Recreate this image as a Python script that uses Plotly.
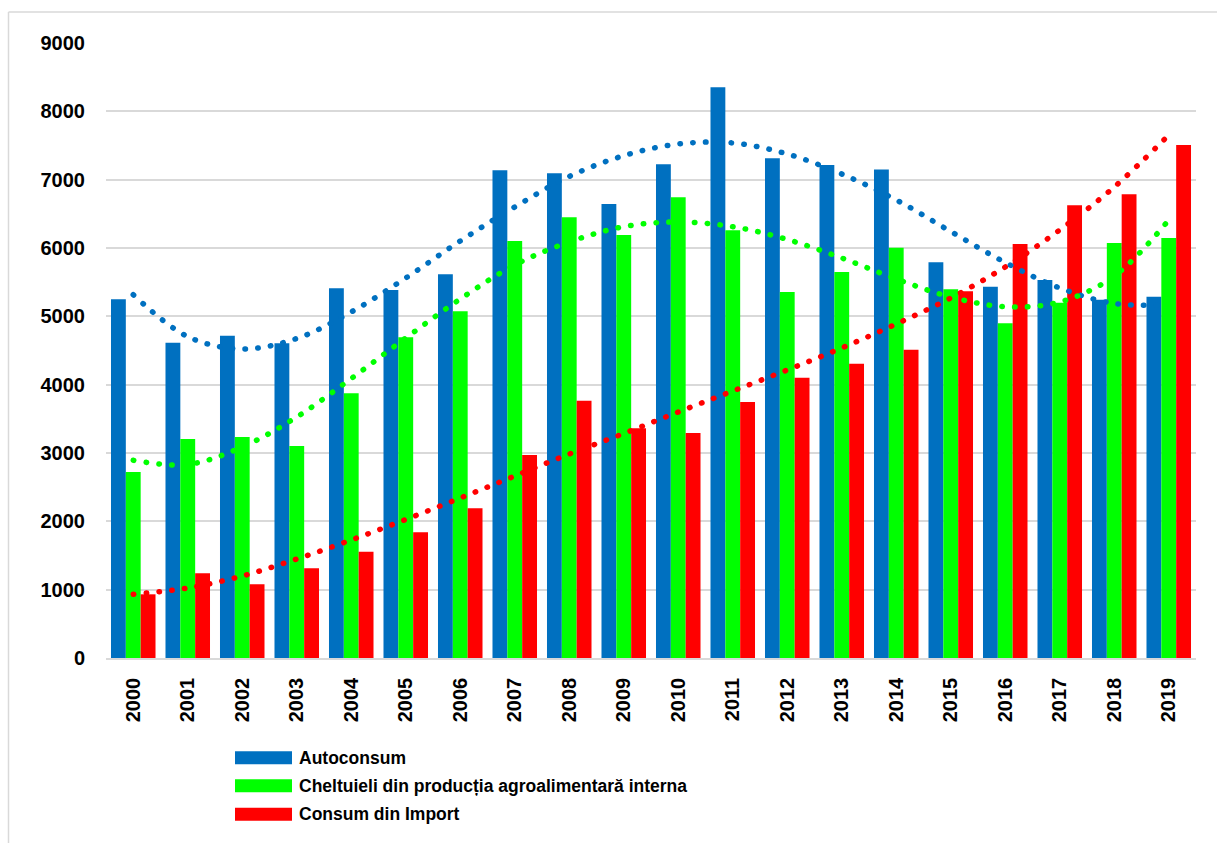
import plotly.graph_objects as go

years = ["2000", "2001", "2002", "2003", "2004", "2005", "2006", "2007", "2008", "2009",
         "2010", "2011", "2012", "2013", "2014", "2015", "2016", "2017", "2018", "2019"]

series_names = ["Autoconsum",
                "Cheltuieli din producția agroalimentară interna",
                "Consum din Import"]

autoconsum = [5250, 4615, 4717, 4605, 5410, 5385, 5615, 7137, 7093, 6644,
              7225, 8352, 7313, 7215, 7147, 5791, 5434, 5532, 5244, 5288]
cheltuieli = [2722, 3205, 3234, 3103, 3873, 4693, 5074, 6103, 6449, 6190,
              6742, 6259, 5356, 5649, 6005, 5396, 4898, 5200, 6074, 6147]
import_cons = [932, 1239, 1078, 1312, 1556, 1839, 2190, 2971, 3766, 3361,
               3293, 3747, 4103, 4307, 4512, 5366, 6059, 6625, 6786, 7508]

# dotted trend lines at each year
trend_autoconsum = [5317, 4703, 4522, 4676, 5064, 5561, 6103, 6600, 7047, 7351,
                    7522, 7537, 7376, 7083, 6703, 6242, 5788, 5415, 5188, 5170]
trend_cheltuieli = [2893, 2832, 3088, 3527, 4090, 4683, 5254, 5752, 6088, 6312,
                    6381, 6312, 6125, 5854, 5547, 5283, 5141, 5210, 5590, 6410]
trend_import = [932, 1024, 1200, 1449, 1727, 2027, 2341, 2663, 2985, 3285,
                3600, 3907, 4215, 4537, 4888, 5269, 5722, 6264, 6893, 7654]

y_ticks = [0, 1000, 2000, 3000, 4000, 5000, 6000, 7000, 8000, 9000]

colors = ["#0070C0", "#00FF00", "#FF0000"]

W, H = 1217, 843
L, R, T, B = 106, 21, 43, 185
PW, PH = W - L - R, H - T - B


def px(x):
    return (x - L) / PW


def py(y):
    return (H - B - y) / PH


fig = go.Figure()
for name, vals, col in zip(series_names, [autoconsum, cheltuieli, import_cons], colors):
    fig.add_trace(go.Bar(x=years, y=vals, name=name, marker=dict(color=col, line=dict(width=0)),
                         showlegend=False))

for vals, col in zip([trend_autoconsum, trend_cheltuieli, trend_import], colors):
    fig.add_trace(go.Scatter(x=years, y=vals, mode="lines", showlegend=False,
                             line=dict(color=col, width=5.5, dash="0.5px,12.3px", shape="spline"),
                             hoverinfo="skip"))

font_family = "Liberation Sans, Arial, sans-serif"

# custom legend
legend_rows_y = [757.7, 785.7, 814.3]
for name, col, ry in zip(series_names, colors, legend_rows_y):
    fig.add_shape(type="rect", xref="paper", yref="paper",
                  x0=px(235), x1=px(292), y0=py(ry - 6.5), y1=py(ry + 6.5),
                  fillcolor=col, line=dict(width=0))
    fig.add_annotation(xref="paper", yref="paper", x=px(297), y=py(ry), text=name,
                       showarrow=False, xanchor="left", yanchor="middle",
                       font=dict(family=font_family, size=17.5, color="#000000", weight="bold"))

# outer frame lines
fig.add_shape(type="line", xref="paper", yref="paper", x0=px(8.5), x1=px(8.5), y0=py(12), y1=py(H + 5),
              line=dict(color="#d9d9d9", width=1.5))
fig.add_shape(type="line", xref="paper", yref="paper", x0=px(8.5), x1=px(W + 5), y0=py(12), y1=py(12),
              line=dict(color="#d9d9d9", width=1.5))

tick_font = dict(family=font_family, size=20, color="#000000", weight="bold")

fig.update_layout(
    width=W, height=H,
    margin=dict(l=L, r=R, t=T, b=B, pad=0),
    paper_bgcolor="white", plot_bgcolor="white",
    barmode="group", bargap=0.183, bargroupgap=0,
    font=dict(family=font_family, color="#000000"),
    xaxis=dict(type="category", tickangle=-90, showgrid=False, ticks="",
               showline=True, linecolor="#d9d9d9", linewidth=1.5,
               tickfont=tick_font, ticklabelstandoff=10, range=[-0.5, 19.5]),
    yaxis=dict(range=[0, 9000], tickvals=y_ticks, ticktext=[str(v) for v in y_ticks],
               showgrid=True, gridcolor="#d9d9d9", gridwidth=1.5, zeroline=False,
               showline=False, ticks="", tickfont=tick_font, ticklabelstandoff=20),
)

post = """
document.body.style.margin='0';
document.body.style.overflow='hidden';
function roundCaps(){
  document.querySelectorAll('.scatterlayer .js-line').forEach(function(p){
    p.style.strokeLinecap='round';
  });
}
roundCaps();
setTimeout(roundCaps, 50);
setTimeout(roundCaps, 300);
"""

fig.write_html("out.html", config={"displayModeBar": False}, post_script=post)
